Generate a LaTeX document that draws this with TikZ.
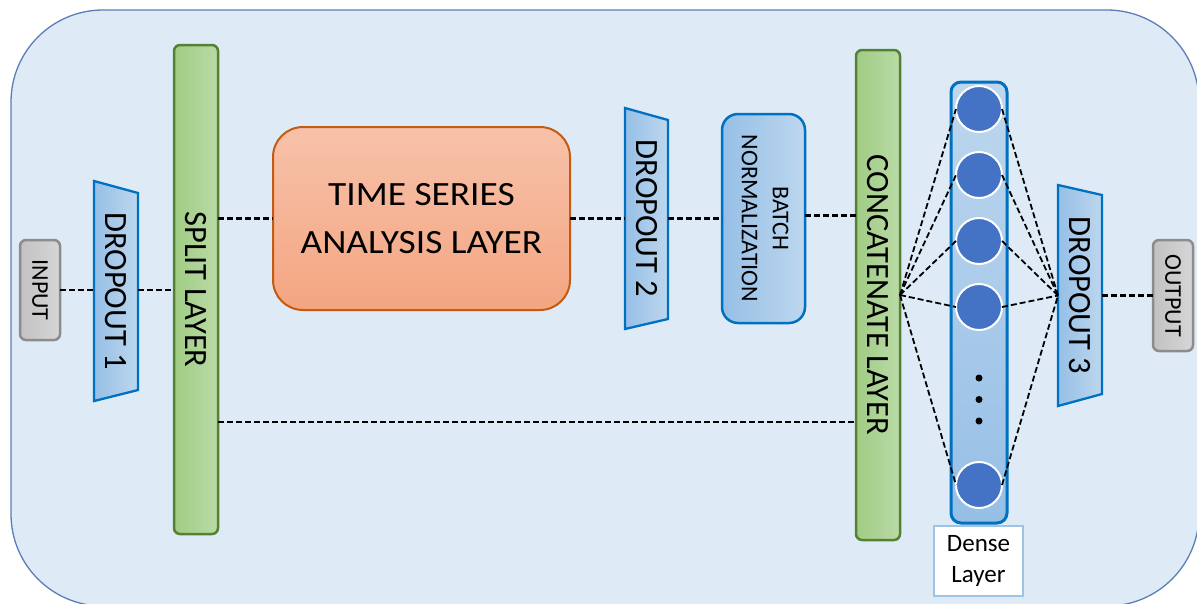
\documentclass[tikz,border=0pt]{standalone}
\usepackage{fontspec}
\setmainfont{Carlito}
\usetikzlibrary{shadings}

\pgfdeclarelayer{bg}
\pgfsetlayers{bg,main}

\definecolor{bgfill}{HTML}{DEEBF7}
\definecolor{bgline}{HTML}{5B7DB8}
\definecolor{dropA}{HTML}{96BFE6}
\definecolor{dropB}{HTML}{BDD7EE}
\definecolor{dropline}{HTML}{0070C0}
\definecolor{greenA}{HTML}{A0CC84}
\definecolor{greenB}{HTML}{BADAA6}
\definecolor{greenline}{HTML}{548235}
\definecolor{tsTop}{HTML}{F7C2AA}
\definecolor{tsBot}{HTML}{F4A581}
\definecolor{tsline}{HTML}{C55A11}
\definecolor{grayA}{HTML}{C2C2C2}
\definecolor{grayB}{HTML}{D6D6D6}
\definecolor{grayline}{HTML}{8C8C8C}
\definecolor{neuroncol}{HTML}{4472C4}
\definecolor{labline}{HTML}{9DC3E6}

% trapezoid outline behind a dropout node: #2 = drop of the upper right corner,
% #3 = rise of the lower right corner
\newcommand\droppoly[3]{%
  \path[dropfill] (#1.north west) -- ([yshift=-#2]#1.north east)
    -- ([yshift=#3]#1.south east) -- (#1.south west) -- cycle;}

\begin{document}
\begin{tikzpicture}[x=1pt,y=-1pt,
  every node/.style={inner sep=0pt, outer sep=0pt},
  lyrbar/.style={rectangle, rounded corners=6pt, draw=greenline, line width=2.5pt,
    left color=greenA, right color=greenB, minimum width=44pt,
    font=\fontsize{32.5}{38}\selectfont},
  dropnode/.style={rectangle, font=\fontsize{32.5}{38}\selectfont},
  dropfill/.style={draw=dropline, line width=2.3pt, left color=dropA, right color=dropB},
  termbox/.style={rectangle, rounded corners=6pt, draw=grayline, line width=2.5pt,
    left color=grayA, right color=grayB, minimum width=40pt,
    font=\fontsize{24}{28}\selectfont},
  tsbox/.style={rectangle, rounded corners=30pt, draw=tsline, line width=2pt,
    top color=tsTop, bottom color=tsBot, align=center,
    font=\fontsize{34}{48}\selectfont},
  bnbox/.style={rectangle, rounded corners=16pt, draw=dropline, line width=2.5pt,
    left color=dropA, right color=dropB, font=\fontsize{24}{31}\selectfont},
  band/.style={rectangle, rounded corners=10pt, draw=dropline, line width=3pt,
    top color=dropB, bottom color=dropA},
  neuron/.style={circle, fill=neuroncol, draw=white, line width=2pt, minimum size=46pt},
  ellipsisdot/.style={circle, fill=black, minimum size=7pt},
  taglabel/.style={rectangle, fill=white, draw=labline, line width=1.5pt, align=center,
    font=\fontsize{25}{31}\selectfont},
  dashlink/.style={line width=2.2pt, dash pattern=on 6pt off 3pt}
]
\useasboundingbox (0,0) rectangle (1197,603);
\clip (0,0) rectangle (1197,603);

% input and output terminals
\node[termbox, minimum height=100pt] (in) at (40,290) {\rotatebox{-90}{INPUT}};
\node[termbox, minimum height=111pt] (out) at (1173,295.5) {\rotatebox{-90}{OUTPUT}};

% dropout layers (outlines drawn on the background layer)
\node[dropnode, minimum width=44pt, minimum height=220pt] (d1) at (116,291) {\rotatebox{-90}{DROPOUT 1}};
\node[dropnode, minimum width=43pt, minimum height=221pt] (d2) at (646.5,218.5) {\rotatebox{-90}{DROPOUT 2}};
\node[dropnode, minimum width=44pt, minimum height=221pt] (d3) at (1080,295.5) {\rotatebox{-90}{DROPOUT 3}};

% split and concatenate bars
\node[lyrbar, minimum height=489pt] (split) at (196,289.5) {\rotatebox{-90}{SPLIT LAYER}};
\node[lyrbar, minimum height=490pt] (cc) at (878,295) {\rotatebox{-90}{CONCATENATE LAYER}};

% time series block
\node[tsbox, minimum width=297pt, minimum height=183pt] (ts) at (421.5,218.5)
  {\scalebox{1.1}[1]{TIME SERIES}\\\scalebox{1.1}[1]{ANALYSIS LAYER}};

% batch normalization
\node[bnbox, minimum width=83pt, minimum height=209pt] (bn) at (763.5,218.5)
  {\rotatebox{-90}{\begin{tabular}{@{}c@{}}BATCH\\NORMALIZATION\end{tabular}}};

% dense layer
\node[band, minimum width=56pt, minimum height=441pt] (dense) at (979,302.5) {};
\node[neuron] (c1) at (979,109) {};
\node[neuron] (c2) at (979,175) {};
\node[neuron] (c3) at (979,241) {};
\node[neuron] (c4) at (979,307) {};
\node[neuron] (c5) at (979,485) {};
\node[ellipsisdot] (p1) at (979,378) {};
\node[ellipsisdot] (p2) at (979,399.5) {};
\node[ellipsisdot] (p3) at (979,421) {};
\node[taglabel, minimum width=89pt, minimum height=70pt] (tag) at (978.5,561) {Dense\\Layer};

\begin{pgfonlayer}{bg}
  \path[fill=bgfill, draw=bgline, line width=1.3pt, rounded corners=92pt]
    (11,10) rectangle (1199,606);
  \droppoly{d1}{12pt}{11pt}
  \droppoly{d2}{12pt}{10pt}
  \droppoly{d3}{10pt}{12pt}
\end{pgfonlayer}

% connectors
\coordinate (skip) at (0,422);
\draw[dashlink] (in.east) -- (in.east -| d1.west);
\draw[dashlink] (in.east -| d1.east) -- (in.east -| split.west);
\draw[dashlink] (ts.west -| split.east) -- (ts.west);
\draw[dashlink] (ts.east) -- (ts.east -| d2.west);
\draw[dashlink] (ts.east -| d2.east) -- (bn.west);
\draw[dashlink] ([yshift=3pt]bn.east) -- ([yshift=3pt]bn.east -| cc.west);
\draw[dashlink] (split.east |- skip) -- (cc.west |- skip);
\foreach \c in {c1,c2,c3,c4,c5}{
  \draw[dashlink, line width=1.8pt] (cc.east) -- (\c.west);
  \draw[dashlink, line width=1.8pt] (\c.east) -- (d3.west);
}
\draw[dashlink] (d3.east) -- (d3.east -| out.west);
\end{tikzpicture}
\end{document}
